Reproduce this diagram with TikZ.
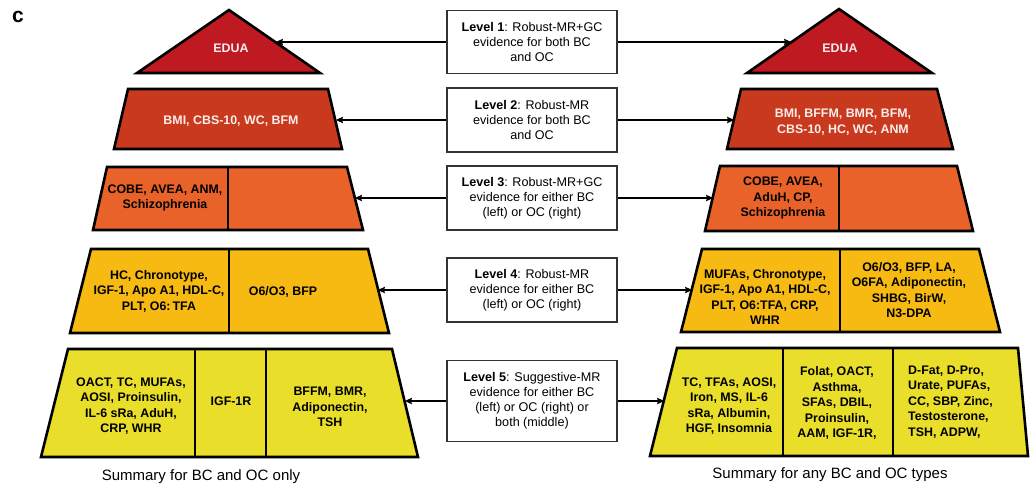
\documentclass[tikz,border=0pt]{standalone}
\usepackage{fontspec}
\setmainfont{Liberation Sans}
\usetikzlibrary{arrows.meta}

\definecolor{tierA}{HTML}{BF1A21}
\definecolor{tierB}{HTML}{C9391E}
\definecolor{tierC}{HTML}{E8622A}
\definecolor{tierD}{HTML}{F6BA12}
\definecolor{tierE}{HTML}{E9DF2A}

\begin{document}
\begin{tikzpicture}[x=1pt,y=-1pt,>={Stealth[length=7pt,width=6.5pt,inset=1pt]},
    tier/.style={draw=black,line width=2.6pt},
    tiertext/.style={font=\bfseries\fontsize{12.4}{15.5}\selectfont,align=center,inner sep=0pt},
    lighttext/.style={tiertext,text=white!92!tierA},
    levelbox/.style={draw=black!80,line width=1.1pt,fill=white,minimum width=170pt,
                     font=\fontsize{12.6}{15}\selectfont,align=center,inner sep=0pt},
    caption/.style={font=\fontsize{15}{18}\selectfont},
    link/.style={->,line width=1.1pt}]

  \useasboundingbox (0,0) rectangle (1036,496);

  \node[font=\bfseries\fontsize{21}{24}\selectfont] (tag) at (18,17) {c};

  % left pyramid: BC and OC only
  \filldraw[tier,fill=tierA] (229,10) -- (320,73) -- (137,73) -- cycle;
  \filldraw[tier,fill=tierB] (128,89) -- (328,89) -- (342,149) -- (114,149) -- cycle;
  \filldraw[tier,fill=tierC] (107,167) -- (347,167) -- (363,230) -- (93,230) -- cycle;
  \draw[tier] (228,167) -- (228,230);
  \filldraw[tier,fill=tierD] (91,249) -- (368,249) -- (389,333) -- (70,333) -- cycle;
  \draw[tier] (229,249) -- (229,333);
  \filldraw[tier,fill=tierE] (68,349) -- (392,349) -- (418,457) -- (41,457) -- cycle;
  \draw[tier] (195,349) -- (195,457);
  \draw[tier] (266,349) -- (266,457);

  \node[lighttext] (eduaL) at (231,48)  {EDUA};
  \node[lighttext] (bmiL)  at (231,121) {BMI, CBS-10, WC, BFM};
  \node[tiertext]  (cobeL) at (165,198) {COBE, AVEA, ANM,\\Schizophrenia};
  \node[tiertext]  (hcL)   at (159,291) {HC, Chronotype,\\IGF-1, Apo A1, HDL-C,\\PLT, O6:\,TFA};
  \node[tiertext]  (o6L)   at (283,292) {O6/O3, BFP};
  \node[tiertext]  (oactL) at (131,406) {OACT, TC, MUFAs,\\AOSI, Proinsulin,\\IL-6 sRa, AduH,\\CRP, WHR};
  \node[tiertext]  (igfL)  at (231,401) {IGF-1R};
  \node[tiertext]  (bffmL) at (330,407) {BFFM, BMR,\\Adiponectin,\\TSH};

  \node[caption] (sumL) at (201,477) {Summary for BC and OC only};

  % right pyramid: any BC and OC types
  \filldraw[tier,fill=tierA] (839,9) -- (932,73) -- (747,73) -- cycle;
  \filldraw[tier,fill=tierB] (741,89) -- (937,89) -- (953,149) -- (727,149) -- cycle;
  \filldraw[tier,fill=tierC] (720,166) -- (957,166) -- (973,231) -- (705,231) -- cycle;
  \draw[tier] (839,166) -- (839,231);
  \filldraw[tier,fill=tierD] (702,249) -- (979,249) -- (1000,332) -- (681,332) -- cycle;
  \draw[tier] (840,249) -- (840,332);
  \filldraw[tier,fill=tierE] (677,348) -- (1018,348) -- (1028,456) -- (650,456) -- cycle;
  \draw[tier] (783,348) -- (783,456);
  \draw[tier] (893,348) -- (893,456);

  \node[lighttext] (eduaR) at (840,48)  {EDUA};
  \node[lighttext] (bmiR)  at (843,122) {BMI, BFFM, BMR, BFM,\\CBS-10, HC, WC, ANM};
  \node[tiertext]  (cobeR) at (783,198) {COBE, AVEA,\\AduH, CP,\\Schizophrenia};
  \node[tiertext]  (mufR)  at (765,297) {MUFAs, Chronotype,\\IGF-1, Apo A1, HDL-C,\\PLT, O6:TFA, CRP,\\WHR};
  \node[tiertext]  (o6R)   at (909,290) {O6/O3, BFP, LA,\\O6FA, Adiponectin,\\SHBG, BirW,\\N3-DPA};
  \node[tiertext]  (tcR)   at (729,406) {TC, TFAs, AOSI,\\Iron, MS, IL-6\\sRa, Albumin,\\HGF, Insomnia};
  \node[tiertext]  (folR)  at (837,403) {Folat, OACT,\\Asthma,\\SFAs, DBIL,\\Proinsulin,\\AAM, IGF-1R,};
  \node[tiertext,align=left,anchor=west] (dfatR) at (908,402) {D-Fat, D-Pro,\\Urate, PUFAs,\\CC, SBP, Zinc,\\Testosterone,\\TSH, ADPW,};

  \node[caption] (sumR) at (830,475) {Summary for any BC and OC types};

  % level boxes in the middle
  \node[levelbox,minimum height=63pt] (lv1) at (532,42)
    {\textbf{Level 1}: Robust-MR+GC\\evidence for both BC\\and OC};
  \node[levelbox,minimum height=64pt] (lv2) at (532,120)
    {\textbf{Level 2}: Robust-MR\\evidence for both BC\\and OC};
  \node[levelbox,minimum height=64pt] (lv3) at (532,198)
    {\textbf{Level 3}: Robust-MR+GC\\evidence for either BC\\(left) or OC (right)};
  \node[levelbox,minimum height=64pt] (lv4) at (532,290)
    {\textbf{Level 4}: Robust-MR\\evidence for either BC\\(left) or OC (right)};
  \node[levelbox,minimum height=81pt] (lv5) at (532,401)
    {\textbf{Level 5}: Suggestive-MR\\evidence for either BC\\(left) or OC (right) or\\both (middle)};

  % where the arrows meet the tiers
  \coordinate (t1L) at (276,42);   \coordinate (t1R) at (791,42);
  \coordinate (t2L) at (336,120);  \coordinate (t2R) at (734,120);
  \coordinate (t3L) at (355,198);  \coordinate (t3R) at (713,198);
  \coordinate (t4L) at (378,290);  \coordinate (t4R) at (692,290);
  \coordinate (t5L) at (405,401);  \coordinate (t5R) at (664,401);

  \foreach \i in {1,...,5} {
    \draw[link] (lv\i) -- (t\i L);
    \draw[link] (lv\i) -- (t\i R);
  }

\end{tikzpicture}
\end{document}
